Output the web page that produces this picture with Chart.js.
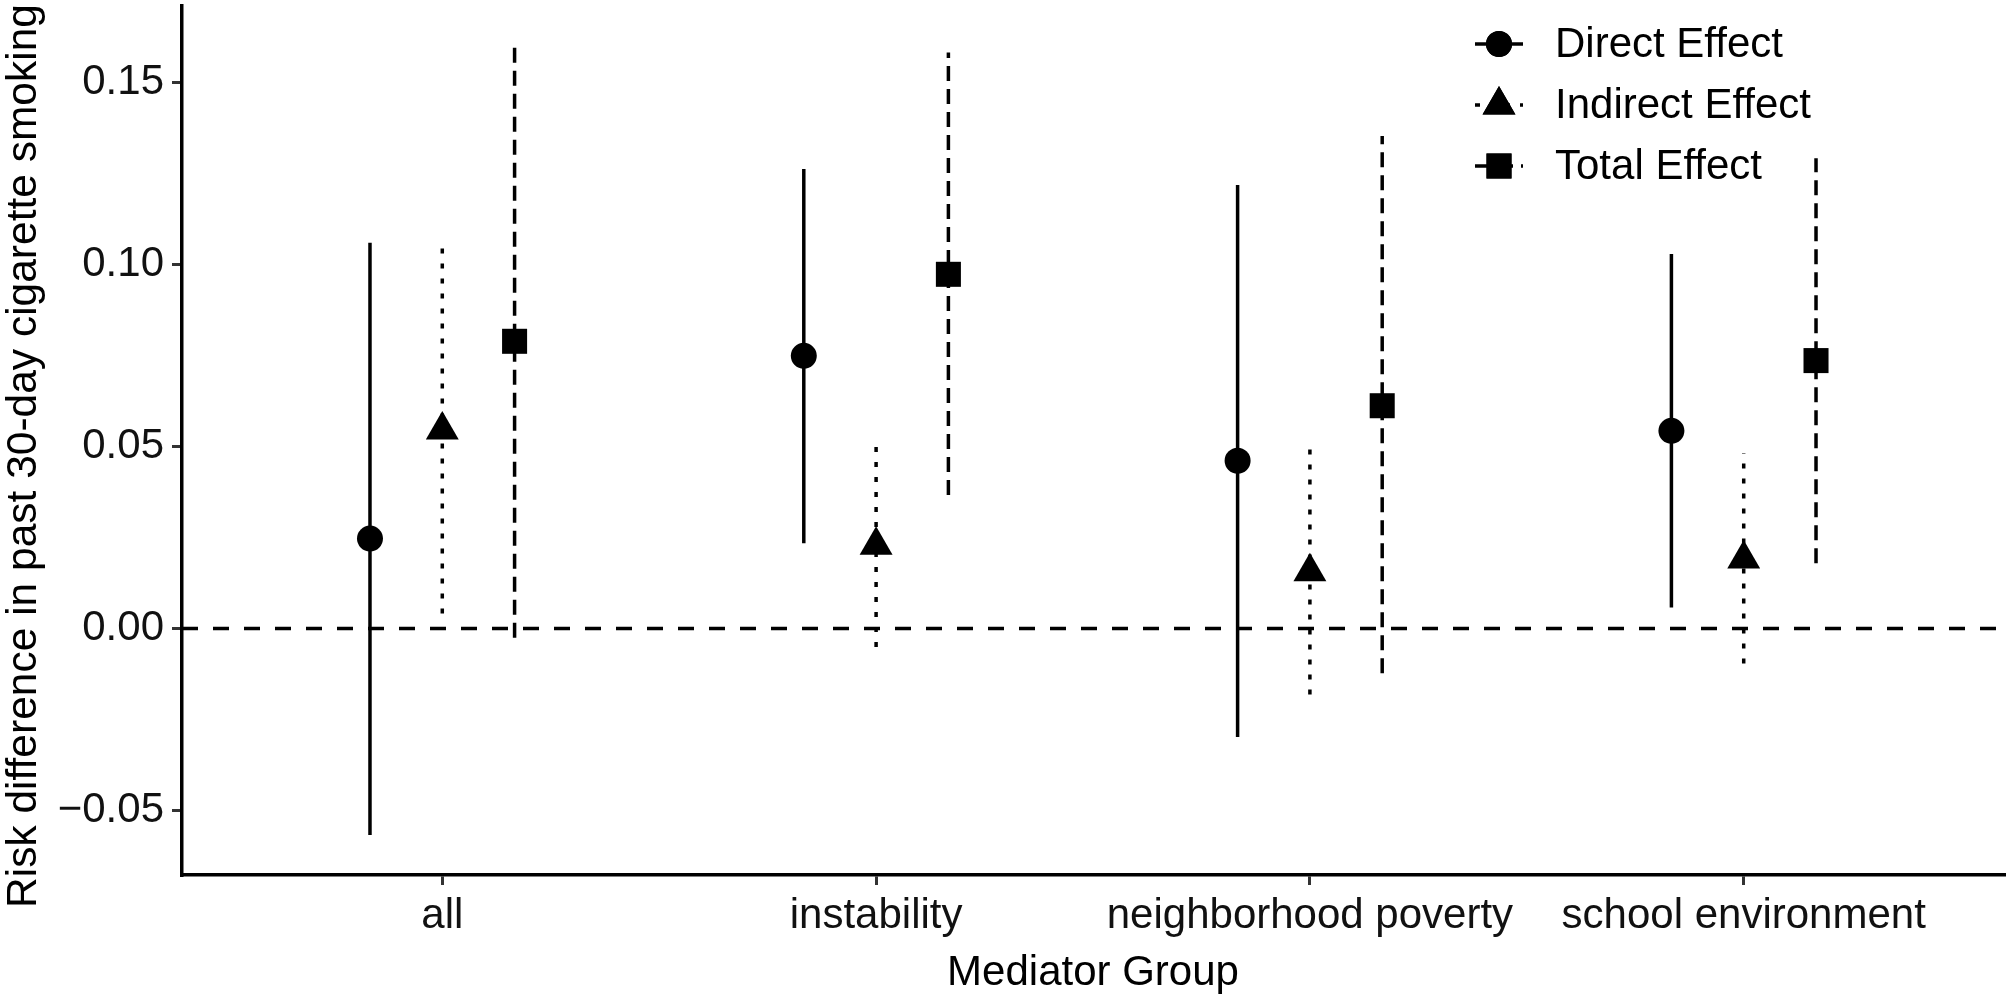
<!DOCTYPE html>
<html>
<head>
<meta charset="utf-8">
<script src="https://cdn.jsdelivr.net/npm/chart.js@4.4.1/dist/chart.umd.min.js"></script>
<style>
html,body{margin:0;padding:0;background:#fff;}
#wrap{width:2010px;height:999px;position:relative;}
</style>
</head>
<body>
<div id="wrap"><canvas id="c"></canvas></div>
<script>
const categories = ['all', 'instability', 'neighborhood poverty', 'school environment'];
const seriesNames = ['Direct Effect', 'Indirect Effect', 'Total Effect'];
const directEst = [0.0247, 0.0749, 0.0461, 0.0543];
const directLo  = [-0.0567, 0.0234, -0.0298, 0.0058];
const directHi  = [0.1060, 0.1262, 0.1218, 0.1029];
const indirectEst = [0.0545, 0.0229, 0.0156, 0.0191];
const indirectLo  = [0.0041, -0.0051, -0.0181, -0.0096];
const indirectHi  = [0.1050, 0.0513, 0.0503, 0.0482];
const totalEst = [0.0789, 0.0973, 0.0612, 0.0736];
const totalLo  = [-0.0025, 0.0367, -0.0123, 0.0179];
const totalHi  = [0.1603, 0.1582, 0.1353, 0.1292];
const yTicks = [-0.05, 0.00, 0.05, 0.10, 0.15];
const xTitle = 'Mediator Group';
const yTitle = 'Risk difference in past 30-day cigarette smoking';

const FONT = "'Liberation Sans', Arial, Helvetica, sans-serif";
const FS = 42;
const dodge = [-1/6, 0, 1/6];
const styles = [
  {dash: [], pointStyle: 'circle', radius: 13},
  {dash: [5, 10], pointStyle: 'triangle', radius: 19},
  {dash: [15, 8], pointStyle: 'rect', radius: 17.7}
];
const est = [directEst, indirectEst, totalEst];
const lo = [directLo, indirectLo, totalLo];
const hi = [directHi, indirectHi, totalHi];

const datasets = [];
datasets.push({
  data: [{x: -0.6, y: 0}, {x: 3.6, y: 0}],
  showLine: true, borderColor: '#000', borderWidth: 3.5, borderDash: [16, 15],
  pointRadius: 0, order: 5
});
for (let s = 0; s < 3; s++) {
  for (let i = 0; i < categories.length; i++) {
    datasets.push({
      data: [{x: i + dodge[s], y: lo[s][i]}, {x: i + dodge[s], y: hi[s][i]}],
      showLine: true, borderColor: '#000', borderWidth: 3.5, borderDash: styles[s].dash,
      pointRadius: 0, order: 4
    });
  }
}
for (let s = 0; s < 3; s++) {
  datasets.push({
    label: seriesNames[s],
    data: categories.map((c, i) => ({x: i + dodge[s], y: est[s][i]})),
    showLine: false, pointStyle: styles[s].pointStyle, pointRadius: styles[s].radius,
    backgroundColor: '#000', borderColor: '#000', borderWidth: 0, order: 1
  });
}

const legendPlugin = {
  id: 'ggLegend',
  afterDraw(chart) {
    const ctx = chart.ctx;
    const rows = [44, 105, 166];
    ctx.save();
    for (let s = 0; s < 3; s++) {
      const y = rows[s];
      ctx.strokeStyle = '#000';
      ctx.lineWidth = 3.5;
      ctx.setLineDash(styles[s].dash);
      ctx.beginPath();
      ctx.moveTo(1475, y); ctx.lineTo(1523, y);
      ctx.stroke();
      ctx.setLineDash([]);
      ctx.fillStyle = '#000';
      Chart.helpers.drawPoint(ctx, {pointStyle: styles[s].pointStyle, radius: styles[s].radius, borderWidth: 0}, 1499, y);
      ctx.fill();
      ctx.font = FS + 'px ' + FONT;
      ctx.textBaseline = 'middle';
      ctx.textAlign = 'left';
      ctx.fillStyle = '#000';
      ctx.fillText(seriesNames[s], 1555, y + 1);
    }
    // rotated y-axis title
    ctx.font = '42.5px ' + FONT;
    ctx.translate(36, 908);
    ctx.rotate(-Math.PI / 2);
    ctx.textBaseline = 'alphabetic';
    ctx.fillText(yTitle, 0, 0);
    ctx.restore();
  }
};

new Chart(document.getElementById('c'), {
  type: 'scatter',
  data: {datasets},
  options: {
    responsive: true, maintainAspectRatio: false, animation: false,
    devicePixelRatio: 1,
    layout: {autoPadding: false, padding: {left: 0, top: 6, right: 6, bottom: 0}},
    plugins: {legend: {display: false}, tooltip: {enabled: false}},
    scales: {
      x: {
        type: 'linear', min: -0.6, max: 3.6,
        afterFit(scale) { scale.height = 124; scale.paddingLeft = 0; scale.paddingRight = 0; },
        afterBuildTicks(scale) { scale.ticks = categories.map((c, i) => ({value: i})); },
        ticks: {
          callback: (v) => categories[v],
          font: {family: FONT, size: FS}, color: '#111', padding: 6, maxRotation: 0, autoSkip: false
        },
        grid: {drawOnChartArea: false, drawTicks: true, tickLength: 10, color: '#333', lineWidth: 3},
        border: {display: true, color: '#000', width: 3.5},
        title: {display: true, text: xTitle, font: {family: FONT, size: FS}, color: '#000', padding: {top: 0, bottom: 0}}
      },
      y: {
        type: 'linear', min: -0.0677, max: 0.171,
        afterFit(scale) { scale.width = 182; scale.paddingTop = 0; scale.paddingBottom = 0; },
        afterBuildTicks(scale) { scale.ticks = yTicks.map(v => ({value: v})); },
        ticks: {
          callback: (v) => (v < 0 ? '\u2212' : '') + Math.abs(v).toFixed(2),
          font: {family: FONT, size: FS}, color: '#111', padding: 8
        },
        grid: {drawOnChartArea: false, drawTicks: true, tickLength: 10, color: '#333', lineWidth: 3},
        border: {display: true, color: '#000', width: 3.5},
        title: {display: false}
      }
    }
  },
  plugins: [legendPlugin]
});
</script>
</body>
</html>
